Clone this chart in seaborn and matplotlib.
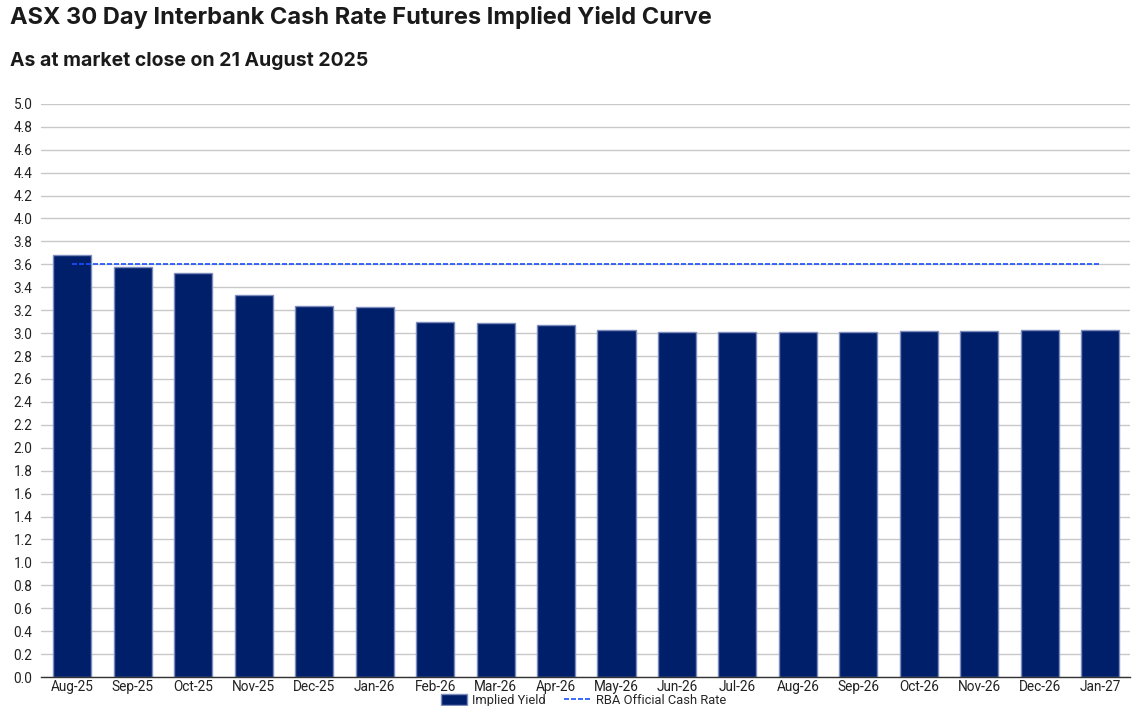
import matplotlib
matplotlib.use("Agg")
import matplotlib.pyplot as plt
import seaborn as sns
import pandas as pd
from matplotlib.patches import Patch
from matplotlib.lines import Line2D

months = ["Aug-25", "Sep-25", "Oct-25", "Nov-25", "Dec-25", "Jan-26", "Feb-26", "Mar-26",
          "Apr-26", "May-26", "Jun-26", "Jul-26", "Aug-26", "Sep-26", "Oct-26", "Nov-26",
          "Dec-26", "Jan-27"]
implied_yield = [3.68, 3.58, 3.52, 3.33, 3.24, 3.23, 3.10, 3.09, 3.07, 3.03, 3.01, 3.01,
                 3.01, 3.01, 3.02, 3.02, 3.03, 3.03]
rba_cash_rate = 3.60
y_ticks = [round(0.2 * i, 1) for i in range(26)]

title = "ASX 30 Day Interbank Cash Rate Futures Implied Yield Curve"
subtitle = "As at market close on 21 August 2025"

sns.set_style("white")
plt.rcParams['font.family'] = ['Roboto', 'DejaVu Sans']

df = pd.DataFrame({"month": months, "yield": implied_yield})

fig = plt.figure(figsize=(11.35, 7.06), dpi=100)
ax = fig.add_axes([0.036, 0.041, 0.96, 0.812])

bar_color = "#001f6b"
edge_color = "#7d8cbc"
line_color = "#1a50ff"
sns.barplot(data=df, x="month", y="yield", color=bar_color, width=0.63,
            edgecolor=edge_color, linewidth=1.0, saturation=1, ax=ax, zorder=2)

n = len(months)
ax.plot(range(n), [rba_cash_rate] * n, color=line_color, linestyle=(0, (3, 1.2)),
        linewidth=1.2, zorder=3)

ax.set_xlim(-0.52, n - 0.5)
ax.set_ylim(0, 5.0)
ax.set_yticks(y_ticks)
ax.set_yticklabels([f"{t:.1f}" for t in y_ticks])
ax.yaxis.grid(True, color="#c8c8c8", linewidth=1.0, zorder=0)
ax.set_axisbelow(True)
for s in ["left", "right", "top"]:
    ax.spines[s].set_visible(False)
ax.spines["bottom"].set_color("#333333")
ax.spines["bottom"].set_linewidth(1.0)
ax.tick_params(axis="both", length=0, labelsize=9.8, colors="#222222")
ax.tick_params(axis="x", pad=2)
ax.tick_params(axis="y", pad=6)
ax.set_xlabel("")
ax.set_ylabel("")

fig.text(0.009, 0.975, title, fontsize=17, fontweight="bold", color="#1a1a1a",
         va="center", ha="left", family=["Inter", "DejaVu Sans"])
fig.text(0.009, 0.914, subtitle, fontsize=14, fontweight="bold", color="#1a1a1a",
         va="center", ha="left", family=["Inter", "DejaVu Sans"])

handles = [Patch(facecolor=bar_color, edgecolor=edge_color, label="Implied Yield"),
           Line2D([0], [0], color=line_color, linestyle=(0, (3, 1.2)), linewidth=1.2,
                  label="RBA Official Cash Rate")]
fig.legend(handles=handles, loc="center", bbox_to_anchor=(0.514, 0.008), ncol=2,
           frameon=False, fontsize=9.3, handlelength=2.0, handleheight=0.95,
           columnspacing=1.4, handletextpad=0.45, borderaxespad=0)

fig.savefig("out.png", dpi=100)
